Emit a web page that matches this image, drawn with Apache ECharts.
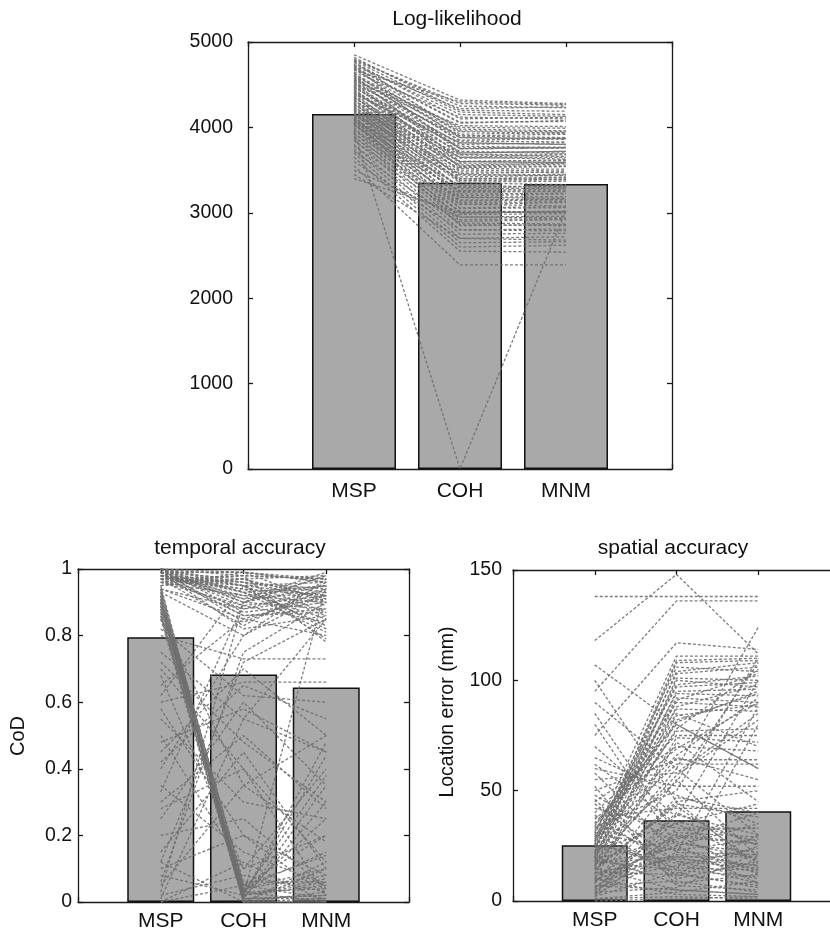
<!DOCTYPE html>
<html>
<head>
<meta charset="utf-8">
<script src="https://cdn.jsdelivr.net/npm/echarts@6/dist/echarts.min.js"></script>
<style>html,body{margin:0;padding:0;background:#fff}#c{width:830px;height:930px}</style>
</head>
<body>
<div id="c"></div>
<script>
var categories = ['MSP', 'COH', 'MNM'];

// Bar heights
var llBars = [4157, 3352, 3337];
var codBars = [0.795, 0.683, 0.644];
var locBars = [25.3, 36.6, 40.7];

// Log-likelihood per-subject lines
var llMSP = [4850,4800,4780,4760,4720,4700,4680,4650,4620,4600,4580,4560,4540,4520,4500,4480,4460,4440,4420,4400,4380,4360,4340,4320,4300,4280,4260,4240,4220,4200,4180,4160,4140,4120,4100,4080,4060,4040,4020,4000,3980,3960,3940,3920,3900,3880,3860,3840,3800,3780,3750,3720,3700,3650,3600,3550,3500,3450,3400,3950,
  4820,4790,4770,4740,4730,4710,4690,4670,4640,4630,4610,4590,4570,4550,4530,4510,4490,4470,4450,4430,4410,4390,4370,4350,4330,4310,4290,4270,4250,4230,4210,4190,4170,4150,4130,4110,4090,4070,4050,4030];
var llCOH = [4320,4250,4180,4100,4220,4050,3980,4120,3900,4000,3850,3950,3800,3880,3750,3700,3820,3650,3600,3780,3550,3500,3720,3460,3420,3380,3650,3350,3300,3560,3250,3200,3450,3150,3100,3400,3050,3000,3320,2950,2900,3260,2850,3180,2800,3100,2750,3020,2700,2980,2650,2880,2600,2550,2800,2390,2950,2700,3000,0,
  4200,4280,3920,4150,3700,4060,3880,4300,3750,3960,3600,3840,3680,4020,3530,3900,3580,3760,3480,3640,3400,3820,3360,3540,3280,3680,3220,3440,3180,3600,3120,3380,3060,3520,3000,3300,2920,3240,2860,3140];
var llMNM = [4280,4230,4150,4120,4240,4080,3960,4100,3920,3990,3870,3930,3820,3860,3760,3720,3800,3680,3610,3760,3570,3490,3700,3480,3440,3390,3630,3330,3310,3580,3260,3220,3430,3160,3080,3410,3060,3020,3300,2960,2920,3280,2860,3170,2810,3120,2760,3010,2680,2990,2660,2870,2620,2540,2790,2390,2940,2720,3010,3030,
  4190,4260,3940,4130,3720,4070,3870,4270,3760,3950,3620,3830,3690,4010,3540,3880,3590,3770,3470,3650,3410,3800,3370,3550,3290,3660,3230,3450,3190,3590,3130,3390,3070,3510,3010,3310,2930,3250,2850,3150];

// Temporal accuracy (CoD) per-subject lines
var codMSP = [1.00,0.99,0.99,0.98,1.00,0.97,0.98,0.99,0.96,1.00,0.97,0.95,0.99,0.98,0.96,1.00,0.94,0.97,0.99,0.93,0.92,0.90,0.91,0.89,0.93,0.88,0.95,0.87,0.94,0.90,0.86,0.92,0.89,0.91,0.85,0.75,0.65,0.55,0.45,0.35,0.25,0.15,0.80,0.60,0.70,0.50,0.40,0.30,0.20,0.82,0.02,0.00,0.05,0.08,0.01,0.10,0.03,0.00,0.06,0.12,
  1.00,0.99,0.98,1.00,0.97,0.99,0.96,1.00,0.98,0.95,0.99,0.97,1.00,0.98,0.96,0.99,0.94,1.00,0.97,0.98,
  0.90,0.92,0.88,0.94,0.89,0.91,0.87,0.93,0.86,0.90,
  0.72,0.58,0.42,0.33,0.85,0.68,0.12,0.48,0.62,0.28];
var codCOH = [0.98,0.97,0.95,0.96,0.93,0.94,0.91,0.99,0.92,0.90,0.88,0.97,0.86,0.93,0.89,0.95,0.85,0.98,0.82,0.80,0.01,0.02,0.00,0.03,0.01,0.04,0.02,0.00,0.05,0.01,0.03,0.06,0.02,0.04,0.00,0.55,0.85,0.30,0.70,0.15,0.60,0.45,0.73,0.66,0.40,0.10,0.80,0.50,0.25,0.62,0.08,0.12,0.35,0.02,0.55,0.20,0.90,0.05,0.75,0.00,
  0.96,0.99,0.92,0.87,0.95,0.90,0.97,0.84,0.94,0.99,0.89,0.96,0.91,0.86,0.98,0.93,0.88,0.99,0.83,0.95,
  0.02,0.00,0.03,0.01,0.04,0.02,0.00,0.05,0.01,0.03,
  0.48,0.20,0.65,0.90,0.35,0.10,0.72,0.58,0.95,0.40];
var codMNM = [0.97,0.98,0.96,0.94,0.95,0.92,0.93,0.96,0.90,0.88,0.91,0.89,0.87,0.85,0.84,0.82,0.80,0.78,0.86,0.93,0.02,0.05,0.12,0.00,0.30,0.08,0.48,0.03,0.20,0.01,0.38,0.06,0.95,0.15,0.00,0.45,0.92,0.25,0.50,0.05,0.35,0.10,0.73,0.66,0.02,0.40,0.97,0.28,0.04,0.60,0.03,0.00,0.18,0.07,0.85,0.02,0.95,0.01,0.90,0.10,
  0.93,0.97,0.95,0.90,0.86,0.98,0.91,0.94,0.83,0.96,0.92,0.87,0.99,0.88,0.97,0.81,0.94,0.90,0.96,0.79,
  0.06,0.00,0.25,0.02,0.10,0.44,0.01,0.14,0.35,0.04,
  0.30,0.08,0.55,0.98,0.50,0.20,0.85,0.45,0.92,0.12];

// Spatial accuracy (location error, mm) per-subject lines
var locMSP = [138,118,107,95,90,75,30,25,28,22,20,26,18,24,32,15,27,12,35,21,40,10,45,29,50,16,55,8,60,33,65,14,38,5,70,23,42,6,19,48,11,31,3,17,36,9,26,2,13,34,7,20,4,15,1,10,85,58,44,18,
  22,27,19,31,24,16,29,21,34,25,12,37,20,28,18,23,8,14,3,6,11,2,9,17,5,13,26,39,46,52,7,1,4,15,10,30,62,80,100,0];
var locCOH = [138,148,80,136,60,117,111,109,106,104,101,98,95,92,90,88,85,82,80,78,75,72,70,66,64,60,58,55,52,50,48,45,42,40,38,35,33,30,28,26,25,23,21,20,18,16,15,13,12,10,9,8,6,5,4,3,30,22,18,14,
  108,103,100,97,94,91,87,84,81,77,74,69,65,62,57,54,47,44,39,36,32,29,27,24,22,19,17,14,11,7,5,2,31,43,20,12,35,25,45,1];
var locMNM = [138,112,60,136,124,114,111,110,104,108,100,102,96,90,88,98,70,94,60,105,75,45,68,92,64,30,85,20,52,110,35,15,42,25,100,18,33,12,40,22,8,28,16,20,10,24,14,6,30,18,4,12,22,3,9,2,26,88,15,80,
  109,106,97,99,93,103,86,89,95,78,72,90,55,62,82,108,40,38,30,27,33,26,19,14,21,16,8,11,25,5,3,1,29,17,13,7,44,35,50,2];

var FONT = 'Liberation Sans, Arial, Helvetica, sans-serif';
var AX = '#1a1a1a';

function xAxes(gi, margin) {
  var base = {
    type: 'value', gridIndex: gi, min: 0, max: 4, interval: 1,
    splitLine: {show: false},
    axisLine: {show: true, onZero: false, lineStyle: {color: AX, width: 1.3}},
    axisTick: {show: true, inside: true, length: 5, lineStyle: {color: AX, width: 1.3}}
  };
  var bottom = Object.assign({}, base, {
    position: 'bottom',
    axisLabel: {show: true, margin: margin, color: '#111', fontSize: 21, fontFamily: FONT,
      formatter: function (v) { return categories[v - 1] || ''; }}
  });
  var top = Object.assign({}, base, {position: 'top', axisLabel: {show: false}});
  return [bottom, top];
}
function yAxes(gi, min, max, interval, margin) {
  var base = {
    type: 'value', gridIndex: gi, min: min, max: max, interval: interval,
    splitLine: {show: false},
    axisLine: {show: true, onZero: false, lineStyle: {color: AX, width: 1.3}},
    axisTick: {show: true, inside: true, length: 5, lineStyle: {color: AX, width: 1.3}}
  };
  var left = Object.assign({}, base, {
    position: 'left',
    axisLabel: {show: true, margin: margin, color: '#111', fontSize: 19.5, fontFamily: FONT,
      formatter: function (v) { return String(v); }}
  });
  var right = Object.assign({}, base, {position: 'right', axisLabel: {show: false}});
  return [left, right];
}

var xAxis = [].concat(xAxes(0, 12), xAxes(1, 9), xAxes(2, 9));
var yAxis = [].concat(yAxes(0, 0, 5000, 1000, 15), yAxes(1, 0, 1, 0.2, 6), yAxes(2, 0, 150, 50, 11));

var series = [];
function addPanel(gi, bars, barW, a, b, c) {
  series.push({
    type: 'bar', xAxisIndex: gi * 2, yAxisIndex: gi * 2, barWidth: barW, silent: true, z: 1,
    itemStyle: {color: '#a9a9a9', borderColor: '#111', borderWidth: 1.5},
    data: bars.map(function (v, i) { return [i + 1, v]; })
  });
  for (var i = 0; i < a.length; i++) {
    series.push({
      type: 'line', xAxisIndex: gi * 2, yAxisIndex: gi * 2, silent: true, z: 3,
      symbol: 'none', animation: false,
      lineStyle: {color: '#6f6f6f', width: 1.3, type: [3, 2], opacity: 0.9},
      data: [[1, a[i]], [2, b[i]], [3, c[i]]]
    });
  }
}
addPanel(0, llBars, 84, llMSP, llCOH, llMNM);
addPanel(1, codBars, 67, codMSP, codCOH, codMNM);
addPanel(2, locBars, 66, locMSP, locCOH, locMNM);

function txt(x, y, s, size, rot) {
  return {
    type: 'text', x: x, y: y, rotation: rot || 0, silent: true,
    style: {text: s, fill: '#111', font: size + 'px ' + FONT,
      align: 'center', verticalAlign: 'middle', textAlign: 'center', textVerticalAlign: 'middle'}
  };
}

var chart = echarts.init(document.getElementById('c'), null, {renderer: 'canvas'});
chart.setOption({
  animation: false,
  backgroundColor: '#fff',
  grid: [
    {left: 248, top: 42, width: 424, height: 427, outerBoundsMode: 'none'},
    {left: 78, top: 569, width: 331, height: 333, outerBoundsMode: 'none'},
    {left: 513, top: 570, width: 327, height: 331, outerBoundsMode: 'none'}
  ],
  xAxis: xAxis,
  yAxis: yAxis,
  series: series,
  graphic: [
    txt(457, 19, 'Log-likelihood', 21),
    txt(240, 548, 'temporal accuracy', 21),
    txt(673, 548, 'spatial accuracy', 21),
    txt(18, 736, 'CoD', 20, Math.PI / 2),
    txt(448, 712, 'Location error (mm)', 19.5, Math.PI / 2)
  ]
});
</script>
</body>
</html>
